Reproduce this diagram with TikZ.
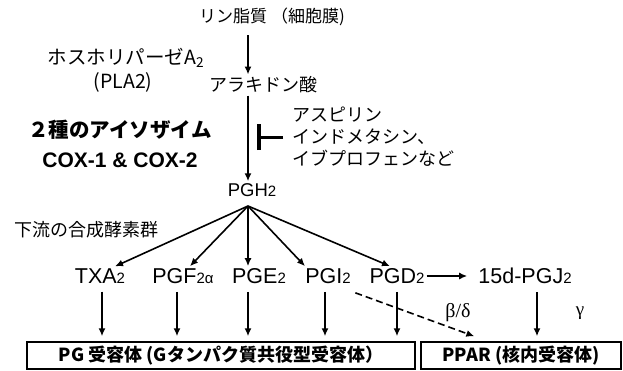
\documentclass[tikz,border=0pt]{standalone}
\usepackage{fontspec}
\setmainfont{Liberation Sans}
\newfontfamily\jpf{Noto Sans CJK JP}
\newfontfamily\grf{Liberation Serif}
\usetikzlibrary{arrows.meta}
\tikzset{lbl/.style={inner sep=2pt}}
\tikzset{jp/.style={lbl,font=\jpf\fontsize{18}{22}\selectfont}}
\tikzset{jpb/.style={lbl,font=\jpf\bfseries\fontsize{20.5}{24}\selectfont}}
\tikzset{pg/.style={lbl,font=\fontsize{21.5}{24}\selectfont}}
\tikzset{arr/.style={-{Latex[length=8pt,width=7pt]},line width=1.6pt}}
\tikzset{thk/.style={arr,line width=2.4pt}}
\tikzset{inh/.style={-{Bar[width=26pt,line width=4pt]},line width=3pt}}
\tikzset{recbox/.style={draw,line width=1.4pt,minimum height=27pt,inner sep=0pt,font=\jpf\bfseries\fontsize{18}{20}\selectfont}}
\newcommand{\sml}[1]{{\fontsize{15}{15}\selectfont #1}}

\begin{document}
\begin{tikzpicture}[x=1pt,y=-1pt]
\useasboundingbox (0,0) rectangle (623,370);
\coordinate (ax) at (248,0);
\coordinate (fan) at (248,206);
\coordinate (blk) at (257,137);

\node[jp,font=\jpf\fontsize{17}{20}\selectfont] (lipid) at (272,17) {リン脂質 （細胞膜)};
\node[jp] (aa) at (263,85) {アラキドン酸};
\node[jp,font=\jpf\fontsize{19.5}{22}\selectfont] (pla) at (126,58) {ホスホリパーゼA\textsubscript{2}};
\node[jp,font=\jpf\fontsize{19.5}{22}\selectfont] (plb) at (123,82) {(PLA2)};
\node[jpb] (iso) at (120,130) {２種のアイソザイム};
\node[lbl,font=\bfseries\fontsize{21}{24}\selectfont] (cox) at (120,160) {COX-1 \& COX-2};
\node[jp,align=left,anchor=west] (drug) at (290,137) {アスピリン\\インドメタシン、\\イブプロフェンなど};
\node[lbl,font=\fontsize{18.5}{22}\selectfont] (pgh) at (252,190) {PGH\sml{2}};
\node[jp] (down) at (86,230) {下流の合成酵素群};

\node[pg] (txa) at (100,276) {TXA\sml{2}};
\node[pg] (pgf) at (183,276) {PGF\sml{2α}};
\node[pg] (pge) at (259,276) {PGE\sml{2}};
\node[pg] (pgi) at (328,276) {PGI\sml{2}};
\node[pg] (pgd) at (397,276) {PGD\sml{2}};
\node[pg] (pgj) at (525,276) {15d-PGJ\sml{2}};
\node[lbl,font=\grf\fontsize{20}{22}\selectfont] (bd) at (458,313) {β/δ};
\node[lbl,font=\grf\fontsize{19}{22}\selectfont] (gam) at (580,313) {γ};

\node[recbox,minimum width=388pt] (pgrec) at (221,355.5) {PG 受容体 (Gタンパク質共役型受容体）};
\node[recbox,minimum width=200pt] (ppar) at (521,355.5) {PPAR (核内受容体)};

\draw[thk,shorten <=7pt] (lipid.south -| ax) -- (aa.north -| ax);
\draw[thk] (aa.south -| ax) -- (pgh.north -| ax);
\draw[inh] ([xshift=-7pt]drug.west) -- (blk);

\foreach \n/\dx in {txa/15,pgf/7,pgi/-23,pgd/-7}
  \draw[arr] (fan) -- ([xshift=\dx pt]\n.north);
\draw[thk] (fan) -- (pge.north -| ax);

\foreach \n/\dx in {txa/2,pgf/-6,pgi/-3,pgd/0}
  \draw[arr,shorten <=6pt,shorten >=5pt] ([xshift=\dx pt]\n.south) -- ([xshift=\dx pt]\n.south |- pgrec.north);
\draw[thk,line width=2pt,shorten <=6pt,shorten >=5pt] (pge.south -| ax) -- (pgrec.north -| ax);
\draw[arr,shorten <=6pt,shorten >=5pt] ([xshift=12pt]pgj.south) -- ([xshift=12pt]pgj.south |- ppar.north);

\draw[arr,shorten >=9pt] (pgd.east) -- (pgj.west);
\draw[arr,dash pattern=on 7pt off 4pt] ([shift={(-12,7)}]pgd.south west) -- ([shift={(54,-5)}]ppar.north west);
\end{tikzpicture}
\end{document}
